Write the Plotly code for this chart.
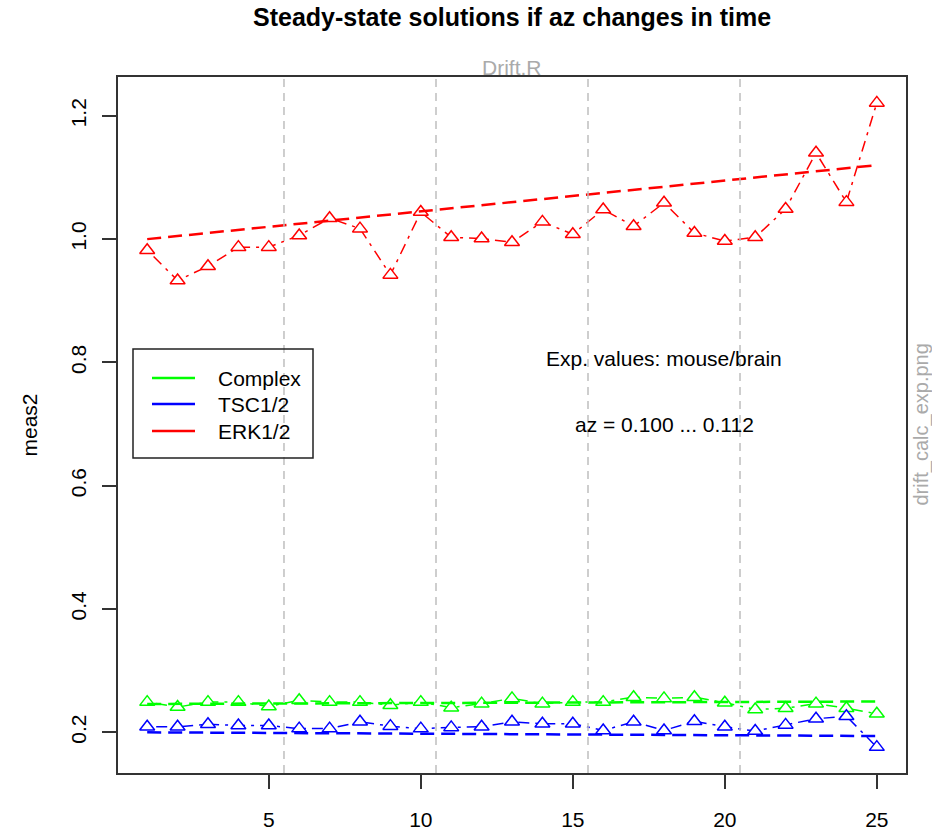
import plotly.graph_objects as go

# ---- data ----
steps = list(range(1, 26))
complex_vals = [0.249, 0.241, 0.249, 0.249, 0.242, 0.252, 0.249, 0.249, 0.244, 0.249,
                0.240, 0.2465, 0.255, 0.2465, 0.249, 0.249, 0.257, 0.255, 0.257, 0.248,
                0.237, 0.239, 0.2465, 0.239, 0.230]
tsc_vals = [0.209, 0.209, 0.213, 0.211, 0.211, 0.206, 0.206, 0.217, 0.210, 0.206,
            0.208, 0.209, 0.217, 0.214, 0.214, 0.203, 0.217, 0.203, 0.218, 0.209,
            0.202, 0.212, 0.222, 0.226, 0.176]
erk_vals = [0.982, 0.933, 0.956, 0.987, 0.987, 1.006, 1.034, 1.017, 0.942, 1.044,
            1.003, 1.001, 0.995, 1.028, 1.008, 1.048, 1.021, 1.059, 1.010, 0.997,
            1.003, 1.049, 1.140, 1.060, 1.221]
trend_x = [1, 25]
complex_trend = [0.246, 0.250]
tsc_trend = [0.200, 0.194]
erk_trend = [1.000, 1.120]
vlines = [5.5, 10.5, 15.5, 20.5]
x_ticks = [5, 10, 15, 20, 25]
y_ticks = [0.2, 0.4, 0.6, 0.8, 1.0, 1.2]

series = [
    ("Complex", complex_vals, complex_trend, "#00FF00"),
    ("TSC1/2", tsc_vals, tsc_trend, "#0000FF"),
    ("ERK1/2", erk_vals, erk_trend, "#FF0000"),
]

FONT = "Liberation Sans, Arial, Helvetica, sans-serif"

fig = go.Figure()

for name, vals, trend, col in series:
    fig.add_trace(go.Scatter(
        x=steps, y=vals, mode="lines+markers", name=name, showlegend=False,
        line=dict(color=col, width=1.5, dash="3px,6px,11px,6px"),
        marker=dict(symbol="triangle-up", size=13, color="white",
                    line=dict(color=col, width=1.5)),
    ))

for name, vals, trend, col in series:
    fig.add_trace(go.Scatter(
        x=trend_x, y=trend, mode="lines", showlegend=False,
        line=dict(color=col, width=2.5, dash="14px,7px"),
    ))

for v in vlines:
    fig.add_shape(type="line", x0=v, x1=v, xref="x", y0=0, y1=1, yref="paper",
                  line=dict(color="#BEBEBE", width=1.5, dash="8px,6px"), layer="above")

# ---- legend box (drawn like R's legend()) ----
PH = 696.0  # plot height in px
def py(p):  # pixel row -> paper y
    return (773 - p) / PH
def px(p):  # pixel column -> paper x
    return (p - 118) / 788.0

fig.add_shape(type="rect", xref="paper", yref="paper", x0=px(133), x1=px(313), y0=py(458), y1=py(349),
              line=dict(color="#222222", width=1.5), fillcolor="rgba(0,0,0,0)")
leg_rows = [py(378), py(404), py(431)]
for (name, vals, trend, col), ry in zip(series, leg_rows):
    fig.add_shape(type="line", xref="paper", yref="paper", x0=px(152), x1=px(195), y0=ry, y1=ry,
                  line=dict(color=col, width=2.5))
    fig.add_annotation(x=px(216), y=ry, xref="paper", yref="paper", xanchor="left",
                       text=name, showarrow=False, font=dict(size=21, color="black", family=FONT))

fig.add_annotation(x=18, y=0.807, xref="x", yref="y", text="Exp. values: mouse/brain",
                   showarrow=False, font=dict(size=21, color="black", family=FONT))
fig.add_annotation(x=18, y=0.700, xref="x", yref="y", text="az = 0.100 ... 0.112",
                   showarrow=False, font=dict(size=21, color="black", family=FONT))

# title, subtitle, side texts
fig.add_annotation(x=0.5, xref="paper", y=1, yref="paper", yanchor="bottom", yshift=44,
                   text="<b>Steady-state solutions if az changes in time</b>",
                   showarrow=False, font=dict(size=25, color="black", family=FONT))
fig.add_annotation(x=0.5, xref="paper", y=1.0, yref="paper", yanchor="bottom", yshift=-4,
                   text="Drift.R", showarrow=False, font=dict(size=21, color="#AAAAAA", family=FONT))
fig.add_annotation(x=1.0, xref="paper", xanchor="left", xshift=1, y=0.5, yref="paper",
                   text="drift_calc_exp.png", textangle=-90, showarrow=False,
                   font=dict(size=20, color="#AAAAAA", family=FONT))
fig.add_annotation(x=0, xref="paper", xanchor="right", xshift=-76, y=0.5, yref="paper",
                   text="meas2", textangle=-90, showarrow=False,
                   font=dict(size=21, color="black", family=FONT))

fig.update_layout(
    width=932, height=832,
    margin=dict(l=118, r=26, t=77, b=59),
    paper_bgcolor="white", plot_bgcolor="white",
    font=dict(family=FONT, size=21, color="black"),
    showlegend=False,
    xaxis=dict(range=[0.04, 25.96], tickvals=x_ticks, ticktext=[str(t) for t in x_ticks],
               ticks="outside", ticklen=14, tickwidth=1.5, tickcolor="#333333",
               showgrid=False, zeroline=False, showline=True, linecolor="#333333",
               linewidth=1.5, mirror=True, ticklabelstandoff=13, automargin=False,
               tickfont=dict(size=21, family=FONT)),
    yaxis=dict(range=[0.134, 1.263], tickvals=y_ticks, ticktext=[f"{t:.1f}" for t in y_ticks],
               ticks="outside", ticklen=14, tickwidth=1.5, tickcolor="#333333",
               showgrid=False, zeroline=False, showline=True, linecolor="#333333",
               linewidth=1.5, mirror=True, tickangle=-90, ticklabelstandoff=8, automargin=False,
               tickfont=dict(size=21, family=FONT)),
)

fig.write_html("out.html")
